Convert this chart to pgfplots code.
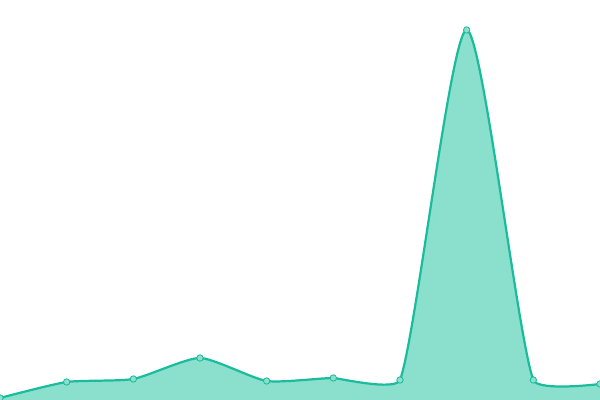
\documentclass[border=0pt]{standalone}
\usepackage{pgfplots}
\usepackage{pgfplotstable}
\pgfplotsset{compat=1.18}
\definecolor{linecol}{HTML}{1ABC9C}
\definecolor{fillcol}{HTML}{8BE0CD}

\pgfplotstableread{
x y
0 2
1 18
2 21
3 42
4 19
5 22
6 20
7 370
8 20
9 16
}\datatable

% the curve is drawn in x ranges, each with its own tension
% #1 from, #2 to, #3 tension
\newcommand{\fillpiece}[3]{%
  \begin{scope}
    \clip (axis cs:#1,-20) rectangle (axis cs:#2,420);
    \addplot[draw=none, fill=fillcol, smooth, tension=#3, forget plot]
      table {\datatable} \closedcycle;
  \end{scope}}
\newcommand{\linepiece}[3]{%
  \begin{scope}
    \clip (axis cs:#1,-20) rectangle (axis cs:#2,420);
    \addplot[draw=linecol, line width=1.6pt, smooth, tension=#3, forget plot]
      table {\datatable};
  \end{scope}}

\begin{document}
\begin{tikzpicture}
\begin{axis}[
    width=6in, height=4in,
    scale only axis,
    xmin=0, xmax=9,
    ymin=0, ymax=400,
    axis lines=none,
    ticks=none,
    clip=true,
    clip marker paths=true,
]
\fillpiece{-0.5}{5.01}{0.36}
\fillpiece{4.99}{6.01}{0.12}
\fillpiece{5.99}{8.01}{0.42}
\fillpiece{7.99}{9.5}{0.12}

\linepiece{-0.5}{5}{0.36}
\linepiece{5}{6}{0.12}
\linepiece{6}{8}{0.42}
\linepiece{8}{9.5}{0.12}

\addplot[
    only marks,
    mark=*,
    mark size=2.3pt,
    mark options={fill=fillcol, draw=linecol, line width=0.6pt},
    ] table {\datatable};

\coordinate (sw) at (rel axis cs:0,0);
\coordinate (ne) at (rel axis cs:1,1);
\end{axis}
\pgfresetboundingbox
\useasboundingbox (sw) rectangle (ne);
\end{tikzpicture}
\end{document}
